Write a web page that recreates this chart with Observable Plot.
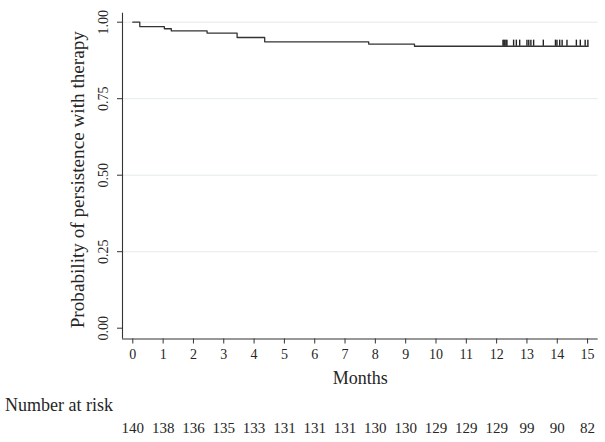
<!DOCTYPE html>
<html>
<head>
<meta charset="utf-8">
<script src="https://cdn.jsdelivr.net/npm/d3@7"></script>
<script src="https://cdn.jsdelivr.net/npm/@observablehq/plot@0.6"></script>
<style>
  html, body { margin: 0; padding: 0; background: #fff; }
</style>
</head>
<body>
<div id="chart"></div>
<script>
// Kaplan–Meier step points (months, survival probability)
const eventMonths = [0, 0.23, 1.04, 1.27, 2.45, 3.44, 4.35, 7.78, 9.29, 15.02];
const survival    = [1.0, 0.9857, 0.9786, 0.9714, 0.9643, 0.95, 0.9357, 0.9286, 0.9214, 0.9214];
// censoring marks (months)
const censorMonths = [12.21, 12.24, 12.27, 12.31, 12.34, 12.56, 12.65, 12.76, 13.00, 13.06, 13.13, 13.22, 13.54, 13.94, 13.99, 14.08, 14.16, 14.32, 14.63, 14.76, 14.92, 15.01];
// x ticks and number at risk
const monthTicks = [0,1,2,3,4,5,6,7,8,9,10,11,12,13,14,15];
const atRisk     = [140,138,136,135,133,131,131,131,130,130,129,129,129,99,90,82];
const yTicks     = [0, 0.25, 0.5, 0.75, 1.0];
const gridValues = [0.25, 0.5, 0.75, 1.0];

const xDomain = [-0.34, 15.35];
const yDomain = [-0.0353, 1.0294];

const km = eventMonths.map((m, i) => ({month: m, s: survival[i]}));
const survAt = t => { let v = survival[0]; eventMonths.forEach((m, i) => { if (m <= t) v = survival[i]; }); return v; };
const censor = censorMonths.map(m => ({month: m, s: survAt(m)}));
const risk = monthTicks.map((m, i) => ({month: m, n: atRisk[i]}));

const ink = "#262626";
const chart = Plot.plot({
  width: 605,
  height: 442,
  marginLeft: 122,
  marginRight: 7.3,
  marginTop: 12.7,
  marginBottom: 103.5,
  x: {domain: xDomain},
  y: {domain: yDomain},
  style: {fontFamily: "'Liberation Serif', 'Times New Roman', serif", background: "#fff", color: ink},
  marks: [
    Plot.ruleY(gridValues, {stroke: "#e4eaec", strokeWidth: 1}),
    Plot.ruleX([xDomain[0]], {stroke: "#333", strokeWidth: 1.1}),
    Plot.ruleY([yDomain[0]], {stroke: "#333", strokeWidth: 1.1}),
    Plot.axisY(yTicks, {tickRotate: -90, tickSize: 5, tickPadding: 10, tickFormat: d3.format(".2f"), fontSize: 14, label: null, stroke: "#333"}),
    Plot.axisX(monthTicks, {tickSize: 5, tickPadding: 5, fontSize: 14, label: null, stroke: "#333"}),
    Plot.line(km, {x: "month", y: "s", curve: "step-after", stroke: "#333", strokeWidth: 1.3}),
    Plot.ruleX(censor, {x: "month", y1: "s", y2: d => d.s + 0.02, stroke: "#222", strokeWidth: 1.4}),
    Plot.text(["Probability of persistence with therapy"], {frameAnchor: "left", textAnchor: "middle", rotate: -90, dx: -45, dy: 3.6, fontSize: 19.2, fill: ink}),
    Plot.text(["Months"], {frameAnchor: "bottom", dy: 44.5, fontSize: 18, fill: ink}),
    Plot.text(["Number at risk"], {frameAnchor: "bottom-left", textAnchor: "start", dx: -117.5, dy: 71.5, fontSize: 18, fill: ink}),
    Plot.text(risk, {x: "month", text: "n", frameAnchor: "bottom", dy: 93.5, fontSize: 15, fill: ink})
  ]
});
document.getElementById("chart").appendChild(chart);
</script>
</body>
</html>
